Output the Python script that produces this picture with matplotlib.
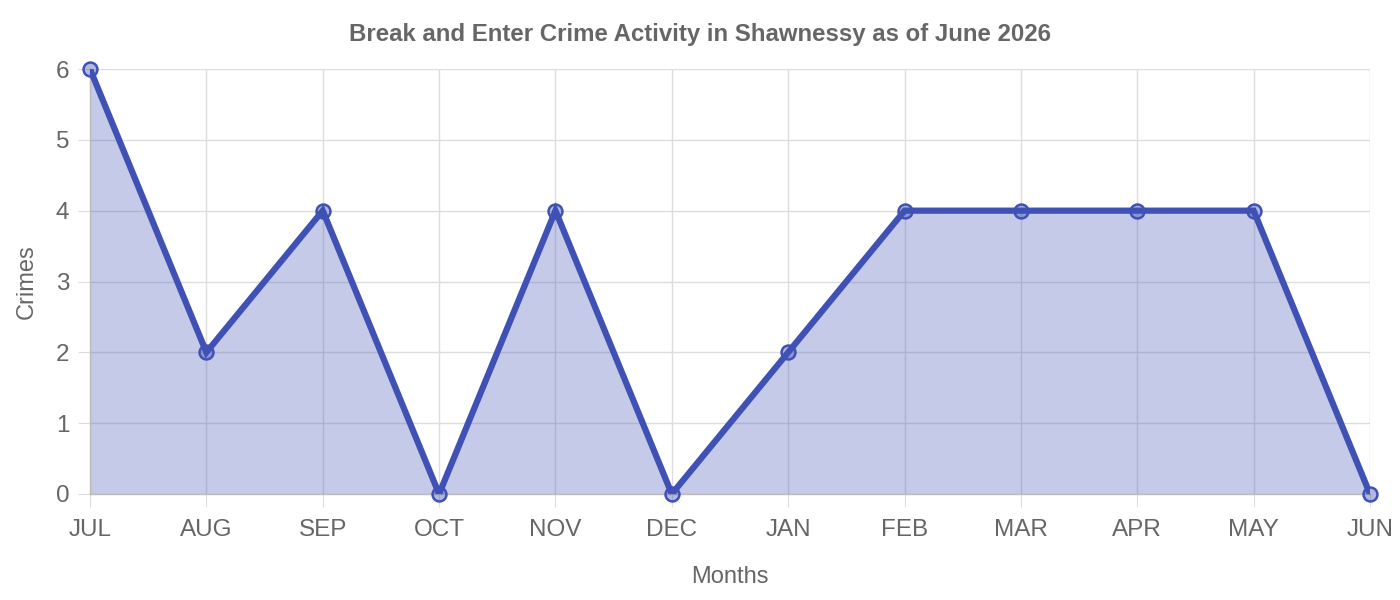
import matplotlib.pyplot as plt

plt.rcParams['font.family'] = ['Liberation Sans', 'DejaVu Sans']

# Data
months = ["JUL", "AUG", "SEP", "OCT", "NOV", "DEC", "JAN", "FEB", "MAR", "APR", "MAY", "JUN"]
crimes = [6, 2, 4, 0, 4, 0, 2, 4, 4, 4, 4, 0]
y_ticks = [0, 1, 2, 3, 4, 5, 6]

line_color = "#3F51B5"
text_color = "#666666"
grid_color = "#dddddd"

fig = plt.figure(figsize=(14, 6), dpi=100)
ax = fig.add_axes([90 / 1400, 1 - 494 / 600, 1280 / 1400, 425 / 600])

x = list(range(len(months)))
ax.fill_between(x, crimes, 0, color=line_color, alpha=0.3, linewidth=0, zorder=2)
ax.plot(x, crimes, color=line_color, linewidth=4.5, zorder=3, solid_joinstyle="miter")
ax.plot(x, crimes, linestyle="none", marker="o", markersize=10,
        markerfacecolor=(63 / 255, 81 / 255, 181 / 255, 0.4), markeredgecolor=line_color,
        markeredgewidth=1.8, zorder=4, clip_on=False)

ax.set_xlim(0, len(months) - 1)
ax.set_ylim(0, 6)
ax.set_xticks(x)
ax.set_xticklabels(months)
ax.set_yticks(y_ticks)

ax.grid(True, color=grid_color, linewidth=1, zorder=1)
ax.set_axisbelow(True)
for side in ["top", "right"]:
    ax.spines[side].set_visible(False)
for side in ["left", "bottom"]:
    ax.spines[side].set_color("#bbbbbb")
    ax.spines[side].set_linewidth(1)

ax.tick_params(axis="both", length=9, color=grid_color, labelcolor=text_color,
               labelsize=17.5)
ax.tick_params(axis="y", pad=6)
ax.tick_params(axis="x", pad=9)

ax.set_xlabel("Months", fontsize=17, color=text_color, labelpad=18)
ax.set_ylabel("Crimes", fontsize=17, color=text_color, labelpad=13)
fig.suptitle("Break and Enter Crime Activity in Shawnessy as of June 2026",
             x=0.5, y=1 - 34 / 600, va="center",
             fontsize=17.3, fontweight="bold", color=text_color)

fig.savefig("out.png", dpi=100)
